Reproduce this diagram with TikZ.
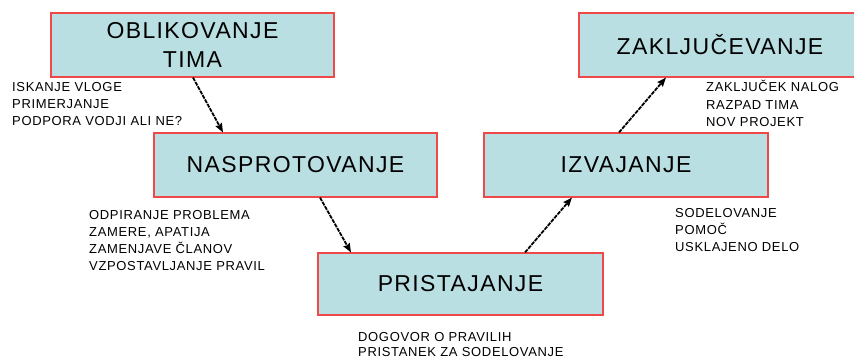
\documentclass[tikz,border=0pt]{standalone}
\usepackage{fontspec}
\setmainfont{Liberation Sans}
\newfontfamily\stagefont[LetterSpace=6]{Liberation Sans}
\newfontfamily\notefont[LetterSpace=5]{Liberation Sans}
\usetikzlibrary{arrows.meta}
\definecolor{stagefill}{HTML}{BADFE3}
\definecolor{stageline}{HTML}{F04848}
\begin{document}
\begin{tikzpicture}[x=1pt,y=-1pt,
  stagebox/.style={draw=stageline, line width=1.1pt, fill=stagefill,
    inner sep=0pt, font=\stagefont\fontsize{23}{29}\selectfont, align=center},
  notes/.style={anchor=base west, inner sep=0pt, align=left},
  flow/.style={line width=1.8pt, dash pattern=on 4pt off 1pt,
    -{Stealth[length=9pt,width=7pt,inset=1pt]}}]
\useasboundingbox (0,0) rectangle (854,358);
\begin{scope}
\clip (0,0) rectangle (854,358);
% the five stages of team development
\node[stagebox, minimum width=283pt, minimum height=64pt] (form) at (192.5,45) {OBLIKOVANJE\\TIMA};
\node[stagebox, minimum width=283pt, minimum height=64pt] (storm) at (295.5,165) {NASPROTOVANJE};
\node[stagebox, minimum width=285pt, minimum height=62pt] (norm) at (460.5,284) {PRISTAJANJE};
\node[stagebox, minimum width=284pt, minimum height=64pt] (perform) at (626,165) {IZVAJANJE};
\node[stagebox, minimum width=282pt, minimum height=64pt] (adjourn) at (720,45) {ZAKLJUČEVANJE};
\end{scope}
% transitions between stages
\draw[flow] ([xshift=0.5pt]form.south) -- ([xshift=-72.5pt]storm.north);
\draw[flow] ([xshift=24.5pt]storm.south) -- ([xshift=-109.5pt]norm.north);
\draw[flow] ([xshift=64.5pt]norm.north) -- ([xshift=-54pt]perform.south);
\draw[flow] ([xshift=-7pt]perform.north) -- ([xshift=-54pt]adjourn.south);
% notes for each stage (placed at the baseline of their last line)
\node[notes, font=\notefont\fontsize{13}{16.7}\selectfont] (formnotes) at (12,125.4)
  {ISKANJE VLOGE\\PRIMERJANJE\\PODPORA VODJI ALI NE?};
\node[notes, font=\notefont\fontsize{13}{17.1}\selectfont] (stormnotes) at (89,270.6)
  {ODPIRANJE PROBLEMA\\ZAMERE, APATIJA\\ZAMENJAVE ČLANOV\\VZPOSTAVLJANJE PRAVIL};
\node[notes, font=\notefont\fontsize{13}{15.2}\selectfont] (normnotes) at (358,356.9)
  {DOGOVOR O PRAVILIH\\PRISTANEK ZA SODELOVANJE};
\node[notes, font=\notefont\fontsize{13}{16.7}\selectfont] (performnotes) at (675,251.1)
  {SODELOVANJE\\POMOČ\\USKLAJENO DELO};
\node[notes, font=\notefont\fontsize{13}{17.5}\selectfont] (adjournnotes) at (706,126.7)
  {ZAKLJUČEK NALOG\\RAZPAD TIMA\\NOV PROJEKT};
\end{tikzpicture}
\end{document}
